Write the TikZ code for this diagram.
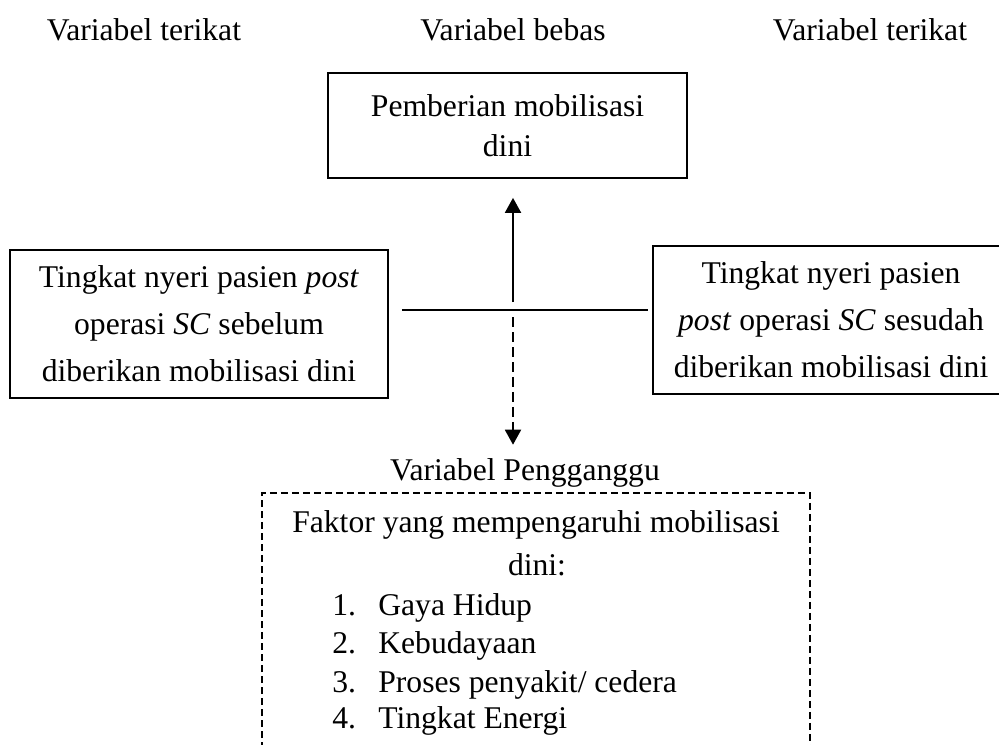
\documentclass[tikz,border=0pt]{standalone}
\usepackage{fontspec}
\setmainfont{Liberation Serif}
\usetikzlibrary{arrows.meta, calc}

\begin{document}
\begin{tikzpicture}[x=0.02cm, y=-0.02cm,
		every node/.style={font=\fontsize{18}{26.7}\selectfont, inner sep=0pt},
		kotak/.style={draw, line width=1pt, align=center},
		panah/.style={line width=1.1pt, -{Triangle[width=0.32cm, length=0.3cm]}}]
	\useasboundingbox (0,0) rectangle (999,744);
	
	\node[anchor=base] (jdlkiri) at (144,40) {Variabel terikat};
	\node[anchor=base] (jdltengah) at (513,40) {Variabel bebas};
	\node[anchor=base] (jdlkanan) at (870,40) {Variabel terikat};
	
	\node[kotak, minimum width=7.18cm, minimum height=2.1cm, font=\fontsize{18}{22.7}\selectfont] (bebas) at (507.5,125.5) {Pemberian mobilisasi\\dini};
	\node[kotak, minimum width=7.56cm, minimum height=2.96cm] (sebelum) at (199,324) {Tingkat nyeri pasien \textit{post}\\operasi \textit{SC} sebelum\\diberikan mobilisasi dini};
	\node[kotak, minimum width=7.12cm, minimum height=2.96cm] (sesudah) at (831,320) {Tingkat nyeri pasien\\\textit{post} operasi \textit{SC} sesudah\\diberikan mobilisasi dini};
	
	\coordinate (tengah) at (513,310);
	\coordinate (atas) at (513,302);
	\coordinate (bawah) at (513,317);
	
	\draw[line width=1pt] ($(tengah -| sebelum.east)+(13,0)$) -- ($(tengah -| sesudah.west)+(-4,0)$);
	\draw[panah] (atas) -- ($(bebas.south -| atas)+(0,19)$);
	
	\node[anchor=base] (pengganggu) at (525,480) {Variabel Pengganggu};
	\draw[panah, dash pattern=on 0.2cm off 0.1cm] (bawah) -- ($(pengganggu.north -| bawah)+(0,-13)$);
	
	% kotak variabel pengganggu
	\draw[line width=0.8pt, dash pattern=on 0.14cm off 0.08cm] (262,760) -- (262,493) -- (810,493) -- (810,760);
	\node[anchor=base] (faktor) at (536,532) {Faktor yang mempengaruhi mobilisasi};
	\node[anchor=base] (dini) at (537,575) {dini:};
	\foreach \n/\isi/\y in {1/Gaya Hidup/615, 2/Kebudayaan/653, 3/{Proses penyakit/ cedera}/692, 4/Tingkat Energi/728} {
		\node[anchor=base west] (no\n) at (332,\y) {\n.};
		\node[anchor=base west] (isi\n) at (378,\y) {\isi};
	}
\end{tikzpicture}
\end{document}
